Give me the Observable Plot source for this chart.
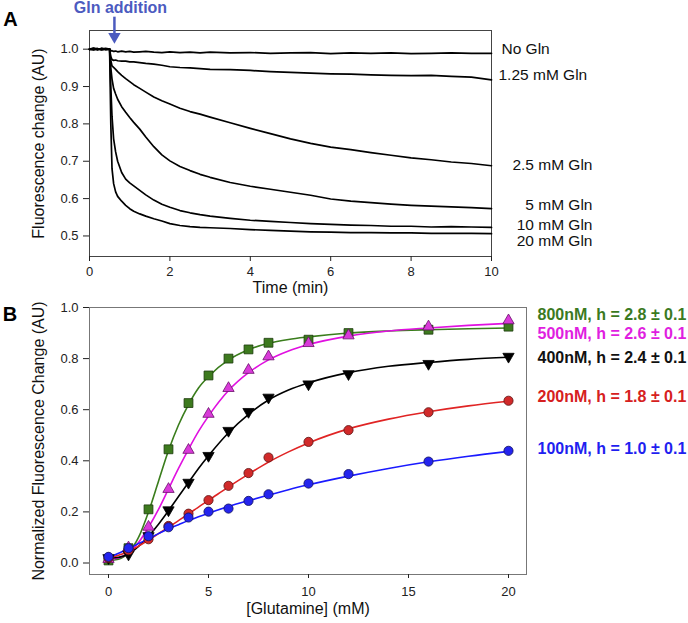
<!DOCTYPE html>
<html><head><meta charset="utf-8">
<script src="https://cdn.jsdelivr.net/npm/d3@7"></script>
<script src="https://cdn.jsdelivr.net/npm/@observablehq/plot@0.6"></script>
<style>
body{margin:0;background:#fff;}
#wrap{position:relative;width:688px;height:623px;overflow:hidden;background:#fff;}
#pa{position:absolute;left:0;top:0;}
#pb{position:absolute;left:0;top:290px;}
</style></head><body>
<div id="wrap"><div id="pa"></div><div id="pb"></div></div>
<script>
// ---------- Panel A data ----------
const timeA = [0,0.1,0.2,0.3,0.4,0.5, 0.53,0.56,0.6,0.65,0.7, 0.8,0.9,1.0,1.1, 1.25,1.4,1.6,1.8,2.0, 2.25,2.5,2.75,3.0, 3.5,4.0,4.5,5.0, 5.5,6.0,6.5,7.0, 7.5,8.0,8.5,9.0, 9.5,10.0];
const namesA = ["No Gln","1.25 mM Gln","2.5 mM Gln","5 mM Gln","10 mM Gln","20 mM Gln"];
const glnNone = [1.000,1.003,0.998,1.002,0.999,1.001, 0.995,0.996,0.994,0.995,0.993, 0.995,0.993,0.994,0.992, 0.993,0.994,0.992,0.991,0.993, 0.991,0.992,0.990,0.992, 0.990,0.991,0.989,0.990, 0.991,0.988,0.990,0.989, 0.990,0.988,0.989,0.990, 0.989,0.989];
const gln125 = [0.999,1.001,1.002,0.998,1.001,1.000, 0.980,0.972,0.970,0.971,0.969, 0.968,0.968,0.966,0.966, 0.964,0.962,0.960,0.957,0.953, 0.951,0.950,0.948,0.946, 0.945,0.943,0.940,0.938, 0.936,0.934,0.933,0.931, 0.930,0.929,0.930,0.927, 0.925,0.918];
const gln25 = [1.001,0.999,1.001,1.000,1.002,1.000, 0.970,0.955,0.951,0.946,0.940, 0.930,0.921,0.913,0.905, 0.895,0.885,0.872,0.862,0.853, 0.842,0.833,0.826,0.818, 0.803,0.788,0.774,0.760, 0.748,0.738,0.731,0.723, 0.716,0.709,0.704,0.698, 0.694,0.688];
const gln5 = [1.000,1.001,0.999,1.002,1.000,0.999, 0.950,0.920,0.895,0.880,0.866, 0.846,0.831,0.817,0.804, 0.786,0.765,0.739,0.717,0.701, 0.686,0.675,0.665,0.657, 0.643,0.633,0.625,0.617, 0.609,0.599,0.593,0.589, 0.585,0.582,0.580,0.578, 0.576,0.573];
const gln10 = [0.999,1.002,1.000,0.999,1.001,1.000, 0.900,0.820,0.760,0.725,0.700, 0.670,0.652,0.642,0.634, 0.622,0.610,0.596,0.585,0.577, 0.568,0.562,0.557,0.553, 0.547,0.542,0.539,0.536, 0.533,0.531,0.529,0.528, 0.526,0.526,0.524,0.525, 0.524,0.523];
const gln20 = [1.000,0.998,1.001,1.000,0.999,1.001, 0.800,0.680,0.640,0.618,0.606, 0.593,0.582,0.573,0.566, 0.559,0.553,0.546,0.540,0.533, 0.528,0.525,0.523,0.522, 0.520,0.517,0.515,0.513, 0.511,0.510,0.509,0.509, 0.508,0.508,0.507,0.507, 0.507,0.506];
const valuesA = [glnNone, gln125, gln25, gln5, gln10, gln20];
const labelYA = [1.0, 0.93, 0.689, 0.582, 0.529, 0.487];
const ticksAX = [0,2,4,6,8,10];
const ticksAY = [0.5,0.6,0.7,0.8,0.9,1.0];
const additionTime = 0.62;

// ---------- Panel B data ----------
const glnConc = [0,1,2,3,4,5,6,7,8,10,12,16,20];
const namesB = ["800nM, h = 2.8 ± 0.1","500nM, h = 2.6 ± 0.1","400nM, h = 2.4 ± 0.1","200nM, h = 1.8 ± 0.1","100nM, h = 1.0 ± 0.1"];
const pts800 = [0.010,0.058,0.210,0.445,0.626,0.734,0.800,0.836,0.862,0.874,0.900,0.913,0.925];
const pts500 = [0.015,0.060,0.141,0.289,0.442,0.583,0.684,0.755,0.808,0.860,0.890,0.925,0.949];
const pts400 = [0.020,0.034,0.106,0.207,0.315,0.420,0.518,0.592,0.648,0.700,0.740,0.780,0.808];
const pts200 = [0.020,0.050,0.093,0.145,0.193,0.246,0.302,0.352,0.413,0.474,0.520,0.590,0.635];
const pts100 = [0.024,0.058,0.105,0.140,0.178,0.201,0.213,0.243,0.269,0.311,0.348,0.397,0.439];
const fitConc = [0,0.5,1,1.5,2,2.5,3,3.5,4,4.5,5,6,7,8,9,10,12,14,16,18,20];
const fit800 = [0.010,0.015,0.040,0.100,0.200,0.320,0.440,0.540,0.620,0.685,0.730,0.795,0.835,0.860,0.875,0.885,0.900,0.908,0.913,0.917,0.920];
const fit500 = [0.015,0.020,0.040,0.080,0.140,0.210,0.290,0.370,0.445,0.515,0.575,0.675,0.745,0.795,0.830,0.855,0.888,0.908,0.920,0.930,0.938];
const fit400 = [0.020,0.022,0.035,0.065,0.105,0.152,0.205,0.260,0.315,0.370,0.420,0.510,0.582,0.638,0.677,0.705,0.745,0.770,0.785,0.797,0.805];
const fit200 = [0.020,0.030,0.045,0.066,0.090,0.115,0.140,0.166,0.192,0.219,0.245,0.298,0.348,0.395,0.435,0.470,0.525,0.563,0.592,0.615,0.633];
const fit100 = [0.020,0.038,0.056,0.076,0.095,0.115,0.134,0.150,0.166,0.181,0.195,0.221,0.244,0.266,0.287,0.306,0.340,0.370,0.396,0.418,0.437];
const ptsB = [pts800, pts500, pts400, pts200, pts100];
const fitsB = [fit800, fit500, fit400, fit200, fit100];
const labelYB = [0.972, 0.897, 0.804, 0.651, 0.448];
const ticksBX = [0,5,10,15,20];
const ticksBY = [0,0.2,0.4,0.6,0.8,1.0];

const lineColB = ["#3a7d1c","#e010e0","#000000","#e02424","#1a1aff"];
const dotFillB = ["#3d7a1e","#d93ad9","#000000","#d12a2a","#2424ee"];
const dotStrokeB = ["#1c3a0c","#6a106a","#000000","#5a1212","#10105a"];
const symbolB = ["square","triangle","triangle","circle","circle"];
const rotateB = [0,0,180,0,0];
const sizeB = [5,4.2,4.2,4.6,4.6];
const labelColB = ["#3b7a1f","#e01ee0","#111111","#d62020","#1f1ff0"];

const FONT = "'Liberation Sans', Arial, sans-serif";
const fmt1 = d3.format(".1f");

// ---------- Panel A ----------
const rowsA = [];
valuesA.forEach((vals, k) => vals.forEach((v, i) => rowsA.push({t: timeA[i], v, s: namesA[k]})));
const labA = namesA.map((n, k) => ({n, y: labelYA[k], k}));
const dxStartA = [10, 7];

const plotA = Plot.plot({
  width: 688, height: 300,
  marginTop: 30, marginBottom: 44, marginLeft: 89, marginRight: 197,
  style: {fontFamily: FONT, background: "transparent", overflow: "visible"},
  x: {domain: [0, 10]},
  y: {domain: [0.445, 1.05]},
  marks: [
    Plot.frame({stroke: "#444"}),
    Plot.axisX({ticks: ticksAX, tickSize: 5, tickPadding: 5, fontSize: 13, color: "#222", label: null}),
    Plot.axisY({ticks: ticksAY, tickSize: 6, tickPadding: 5, fontSize: 13, color: "#222", tickFormat: fmt1, label: null}),
    Plot.line(rowsA, {x: "t", y: "v", z: "s", stroke: "#000", strokeWidth: 1.7}),
    Plot.text(labA.filter(d => d.k === 0), {x: 10, y: "y", text: "n", textAnchor: "start", dx: dxStartA[0], fontSize: 15.5, fill: "#111"}),
    Plot.text(labA.filter(d => d.k === 1), {x: 10, y: "y", text: "n", textAnchor: "start", dx: dxStartA[1], fontSize: 15.5, fill: "#111"}),
    Plot.text(labA.filter(d => d.k >= 2), {x: 10, y: "y", text: "n", textAnchor: "end", dx: 101, fontSize: 15.5, fill: "#111"}),
    Plot.text(["Time (min)"], {frameAnchor: "bottom", textAnchor: "middle", dy: 36, fontSize: 16, fill: "#111"}),
    Plot.text(["Fluorescence change (AU)"], {frameAnchor: "left", textAnchor: "middle", dx: -51, rotate: -90, fontSize: 16, fill: "#111"}),
    Plot.text(["A"], {frameAnchor: "top-left", textAnchor: "middle", dx: -79, dy: -18.5, fontSize: 20, fontWeight: "bold", fill: "#000"}),
    Plot.link([additionTime], {x1: d => d, x2: d => d, y1: 1.087, y2: 1.042, stroke: "#4c5bbf", strokeWidth: 2.5}),
    Plot.dot([additionTime], {x: d => d, y: 1.034, symbol: "triangle", rotate: 180, r: 4.6, fill: "#4c5bbf", stroke: "none"}),
    Plot.text(["Gln addition"], {x: 0.77, y: 1.11, fontSize: 16, fontWeight: "bold", fill: "#4c5bbf"})
  ]
});
document.getElementById("pa").appendChild(plotA);

// ---------- Panel B ----------
const marksB = [
  Plot.frame({stroke: "#777"}),
  Plot.axisX({ticks: ticksBX, tickSize: 4, tickPadding: 8, fontSize: 13, color: "#222", label: null}),
  Plot.axisY({ticks: ticksBY, tickSize: 6, tickPadding: 5, fontSize: 13, color: "#222", tickFormat: fmt1, label: null}),
];
fitsB.forEach((f, k) => {
  marksB.push(Plot.line(f.map((v, i) => ({c: fitConc[i], v})), {x: "c", y: "v", stroke: lineColB[k], strokeWidth: 1.6, curve: "monotone-x"}));
});
ptsB.forEach((p, k) => {
  marksB.push(Plot.dot(p.map((v, i) => ({c: glnConc[i], v})), {x: "c", y: "v", symbol: symbolB[k], rotate: rotateB[k], r: sizeB[k], fill: dotFillB[k], stroke: dotStrokeB[k], strokeWidth: 0.8}));
});
marksB.push(
  Plot.text(namesB.map((n, k) => ({n, y: labelYB[k], col: labelColB[k]})), {x: 20.9, y: "y", text: "n", textAnchor: "start", dx: 11, fontSize: 16, fontWeight: "bold", fill: d => d.col}),
  Plot.text(["[Glutamine] (mM)"], {frameAnchor: "bottom", textAnchor: "middle", dy: 39, fontSize: 16, fill: "#111"}),
  Plot.text(["Normalized Fluorescence Change (AU)"], {frameAnchor: "left", textAnchor: "middle", dx: -51, rotate: -90, fontSize: 16, fill: "#111"}),
  Plot.text(["B"], {frameAnchor: "top-left", textAnchor: "middle", dx: -79.5, dy: -1, fontSize: 20, fontWeight: "bold", fill: "#000"})
);
const plotB = Plot.plot({
  width: 688, height: 333,
  marginTop: 17, marginBottom: 49, marginLeft: 89, marginRight: 162,
  style: {fontFamily: FONT, background: "transparent", overflow: "visible"},
  x: {domain: [-0.95, 20.9]},
  y: {domain: [-0.045, 1.0]},
  marks: marksB
});
document.getElementById("pb").appendChild(plotB);
</script>
</body></html>
